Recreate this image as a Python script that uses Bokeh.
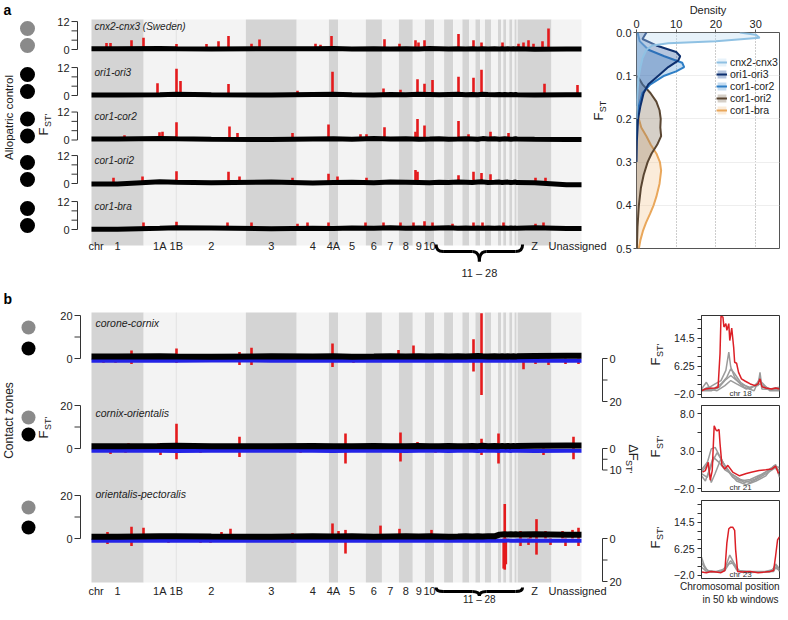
import math
from bokeh.plotting import figure
from bokeh.models import Range1d, FixedTicker, PrintfTickFormatter, Legend, LegendItem, Title
from bokeh.layouts import row, column
from bokeh.embed import file_html
from bokeh.resources import INLINE
from bokeh.core.properties import value

FONT = "Liberation Sans"
RED = "#e41a1c"
BLUE = "#2323e6"
GREY_BAND = "#d4d4d4"
LIGHT_BAND = "#f3f3f3"
TXT = "#222222"
CIRCLE_GREY = "#8a8a8a"

# ---------------- genome layout data ----------------
CHROMS = ["1", "1A", "1B", "2", "3", "4", "4A", "5", "6", "7", "8", "9", "10",
          "11", "12", "13", "14", "15", "17", "18", "19", "20", "21", "22", "23",
          "24", "25", "26", "27", "28", "Z", "Unassigned"]
CHROM_MB = [120, 74, 2, 159, 117, 74, 21, 64, 37, 39, 32, 28, 21,
            23, 21, 21, 16, 14, 11, 11, 14, 16, 7, 5, 7, 7, 7, 5, 5, 2, 78, 69]
CHROM_LABELS = ["1", "1A", "1B", "2", "3", "4", "4A", "5", "6", "7", "8", "9", "10", "Z"]
BRACE_FROM, BRACE_TO, BRACE_TEXT = "11", "28", "11 \u2013 28"

# ---------------- panel a: allopatric control ----------------
A_NAMES = ["cnx2-cnx3 (Sweden)", "ori1-ori3", "cor1-cor2", "cor1-ori2", "cor1-bra"]
A_CIRCLES = [(CIRCLE_GREY, CIRCLE_GREY), ("black", "black"), ("black", "black"),
             ("black", "black"), ("black", "black")]
A_YTICKS = [0, 4, 8, 12]
A_YLABELS = [0, 12]
A_BASE = [
    [0.3, 0.4, 0.3, 0.2, 0.3, 0.3, 0.4, 0.2, 0.3, 0.2, 0.3, 0.2, 0.4, 0.3, 0.2, 0.3,
     0.2, 0.3, 0.2, 0.3, 0.2, 0.3, 0.2, 0.3, 0.2, 0.3, 0.2, 0.3, 0.2, 0.3, 0.1, 0.2],
    [0.2, 0.3, 0.5, 0.3, 0.2, 0.4, 0.5, 0.3, 0.2, 0.4, 0.3, 0.5, 0.4, 0.3, 0.4, 0.5,
     0.3, 0.4, 0.3, 0.5, 0.4, 0.3, 0.4, 0.3, 0.4, 0.3, 0.4, 0.3, 0.4, 0.3, 0.2, 0.3],
    [0.4, 0.6, 0.5, 0.3, 0.2, 0.4, 0.5, 0.3, 0.6, 0.4, 0.5, 0.3, 0.4, 0.5, 0.3, 0.4,
     0.5, 0.4, 0.3, 0.6, 0.4, 0.5, 0.3, 0.4, 0.5, 0.4, 0.3, 0.4, 0.5, 0.4, 0.3, 0.2],
    [-0.2, 0.8, 0.5, 0.3, 0.6, 0.2, 0.4, 0.5, 0.3, 0.6, 0.5, 0.4, 0.3, 0.5, 0.4, 0.6,
     0.5, 0.4, 0.6, 0.7, 0.4, 0.5, 0.6, 0.4, 0.5, 0.6, 0.4, 0.5, 0.6, 0.4, 0.3, -0.5],
    [0.1, 0.5, 0.7, 0.6, 0.3, 0.5, 0.4, 0.6, 0.5, 0.7, 0.5, 0.6, 0.5, 0.6, 0.7, 0.5,
     0.6, 0.5, 0.6, 0.5, 0.6, 0.5, 0.6, 0.5, 0.6, 0.5, 0.6, 0.5, 0.6, 0.5, 0.7, 0.4],
]
A_PEAK_POS = [
    [34.5, 43.7, 92.0, 119.6, 195.5, 264.5, 292.1, 315.1, 368.0, 386.4, 515.2, 526.7, 552.0,
     673.9, 708.4, 745.2, 752.1, 765.9, 844.1, 878.6, 897.0, 945.3, 982.1, 993.6, 1005.1,
     1016.6, 1037.3, 1051.1],
    [151.8, 195.5, 204.7, 315.1, 473.8, 554.3, 671.6, 710.7, 749.8, 765.9, 784.3, 844.1,
     878.6, 897.0, 1041.9, 1117.8],
    [75.9, 156.4, 163.3, 195.5, 317.4, 335.8, 462.3, 545.1, 618.7, 632.5, 673.9, 745.2,
     749.8, 765.9, 844.1, 867.1, 917.7, 959.1],
    [50.6, 117.3, 195.5, 315.1, 340.4, 462.3, 545.1, 565.8, 632.5, 745.2, 749.8, 844.1,
     878.6, 897.0, 917.7, 1021.2, 1044.2],
    [119.6, 195.5, 312.8, 368.0, 473.8, 496.8, 545.1, 630.2, 671.6, 710.7, 740.6, 765.9,
     784.3, 830.3, 878.6, 899.3, 947.6, 1021.2, 1039.6],
]
A_PEAK_H = [
    [2.8, 2.8, 4.0, 5.0, 2.4, 2.4, 3.5, 5.8, 2.5, 4.3, 2.5, 2.0, 5.8, 4.4, 2.5, 4.0, 3.0,
     4.0, 6.7, 4.0, 3.0, 3.0, 2.5, 3.0, 4.0, 2.5, 3.5, 9.0],
    [5.3, 11.5, 6.2, 4.9, 2.0, 10.2, 3.0, 2.5, 7.0, 5.0, 6.6, 8.0, 7.6, 11.0, 5.0, 4.5],
    [2.0, 3.3, 3.5, 7.6, 5.8, 3.0, 3.0, 6.7, 2.5, 2.5, 5.5, 3.5, 9.0, 6.2, 8.2, 2.5, 3.5, 3.0],
    [2.5, 3.0, 5.3, 5.0, 3.0, 2.5, 4.2, 3.0, 2.5, 5.8, 5.0, 3.5, 5.0, 4.5, 4.0, 2.5, 2.5],
    [3.0, 3.3, 3.0, 3.0, 2.5, 3.0, 3.0, 3.0, 3.0, 3.0, 3.0, 3.5, 3.0, 2.5, 3.0, 3.0, 3.0, 2.5, 3.0],
]

# ---------------- panel b: contact zones ----------------
B_NAMES = ["corone-cornix", "cornix-orientalis", "orientalis-pectoralis"]
B_YTICKS = [0, 10, 20]
B_YLABELS = [0, 20]
B_DTICKS = [[0, 10, 20], [0, 5, 10], [0, 10, 20]]
B_DLABELS = [[0, 20], [0, 10], [0, 20]]
B_BASE = [
    [0.9, 1.0, 0.9, 0.8, 1.0, 0.9, 1.0, 0.8, 0.9, 1.0, 0.9, 1.0, 0.9, 1.0, 0.9, 1.0,
     0.9, 1.1, 1.2, 1.0, 0.9, 1.0, 0.9, 1.0, 0.9, 1.0, 0.9, 1.0, 0.9, 1.0, 1.2, 1.3],
    [1.0, 1.2, 1.3, 1.1, 1.0, 1.2, 1.1, 1.0, 1.2, 1.1, 1.0, 1.2, 1.1, 1.0, 1.2, 1.1,
     1.0, 1.2, 1.1, 1.3, 1.1, 1.2, 1.1, 1.2, 1.1, 1.2, 1.1, 1.2, 1.1, 1.2, 1.3, 1.4],
    [0.8, 1.0, 1.0, 0.9, 0.8, 1.0, 0.9, 1.0, 0.8, 0.9, 1.0, 0.9, 1.0, 0.9, 0.8, 0.9,
     1.0, 0.9, 1.0, 0.9, 1.0, 1.0, 1.8, 1.9, 2.0, 1.9, 2.0, 1.9, 2.0, 1.9, 2.0, 1.8],
]
B_DBASE = [
    [-1.0, -1.1, -1.0, -0.9, -1.0, -1.1, -1.0, -0.9, -1.0, -1.1, -1.0, -0.9, -1.0, -1.1,
     -1.0, -0.9, -1.0, -1.1, -1.0, -0.9, -1.0, -1.1, -1.0, -0.9, -1.0, -1.1, -1.0, -0.9,
     -1.0, -1.1, -1.0, -1.1],
    [-1.1, -1.0, -1.2, -1.0, -1.1, -1.0, -1.2, -1.0, -1.1, -1.0, -1.2, -1.0, -1.1, -1.0,
     -1.2, -1.0, -1.1, -1.0, -1.2, -1.0, -1.1, -1.0, -1.2, -1.0, -1.1, -1.0, -1.2, -1.0,
     -1.1, -1.0, -1.2, -1.1],
    [-1.0, -0.9, -1.0, -1.1, -1.0, -0.9, -1.0, -1.1, -1.0, -0.9, -1.0, -1.1, -1.0, -0.9,
     -1.0, -1.1, -1.0, -0.9, -1.0, -1.1, -1.0, -0.9, -1.0, -1.1, -1.0, -0.9, -1.0, -1.1,
     -1.0, -0.9, -1.0, -1.1],
]
B_UP_POS = [
    [92.0, 195.5, 340.4, 368.0, 554.3, 706.1, 740.6, 878.6, 897.0],
    [27.6, 85.1, 154.1, 195.5, 340.4, 584.2, 710.7, 749.8, 897.0, 936.1, 1108.6],
    [36.8, 92.0, 119.6, 177.1, 195.5, 278.3, 299.0, 319.7, 462.3, 554.3, 568.1, 584.2,
     664.7, 708.4, 782.0, 950.5, 986.7, 1009.7, 1023.5, 1044.2, 1083.3, 1106.3, 1120.1],
]
B_UP_H = [
    [3.7, 4.6, 3.0, 5.0, 7.0, 4.0, 6.0, 9.0, 21.0],
    [2.0, 2.5, 2.5, 11.5, 5.5, 7.0, 7.5, 3.0, 4.5, 7.0, 5.5],
    [3.0, 5.5, 5.0, 2.0, 2.0, 2.0, 3.0, 4.5, 2.5, 7.0, 3.5, 4.0, 6.0, 4.5, 4.0, 16.0, 3.5,
     3.0, 9.0, 3.5, 3.5, 4.0, 5.0],
]
B_DN_POS = [
    [27.6, 55.2, 92.0, 195.5, 340.4, 368.0, 554.3, 602.6, 878.6, 897.0, 993.6, 1021.2,
     1051.1, 1090.2, 1120.1],
    [43.7, 78.2, 158.7, 195.5, 250.7, 340.4, 480.7, 584.2, 710.7, 791.2, 897.0, 936.1,
     1039.6, 1108.6],
    [36.8, 92.0, 177.1, 250.7, 273.7, 462.3, 584.2, 948.0, 950.5, 953.0, 986.7, 1005.1,
     1023.5, 1055.7, 1090.2, 1120.1],
]
B_DN_H = [
    [2.0, 2.0, 2.5, 2.0, 3.0, 3.0, 4.0, 2.0, 6.0, 17.0, 5.0, 2.5, 3.0, 2.5, 2.5],
    [2.5, 2.0, 3.0, 5.0, 2.0, 4.0, 2.0, 7.0, 6.0, 2.0, 3.0, 7.0, 3.0, 5.0],
    [2.5, 3.5, 2.0, 2.0, 2.0, 2.0, 7.0, 14.0, 14.5, 12.0, 3.5, 3.0, 7.5, 3.0, 3.5, 3.5],
]

# ---------------- density panel ----------------
D_NAMES = ["cnx2-cnx3", "ori1-ori3", "cor1-cor2", "cor1-ori2", "cor1-bra"]
D_FST = [
    [0.0, 0.005, 0.012, 0.02, 0.025, 0.03, 0.04, 0.06, 0.08, 0.1, 0.13, 0.16, 0.2],
    [0.0, 0.015, 0.03, 0.045, 0.055, 0.065, 0.08, 0.1, 0.12, 0.14, 0.17, 0.2, 0.25, 0.3],
    [0.0, 0.02, 0.04, 0.055, 0.07, 0.08, 0.09, 0.1, 0.12, 0.14, 0.17, 0.2, 0.25],
    [0.1, 0.12, 0.14, 0.16, 0.18, 0.2, 0.22, 0.24, 0.26, 0.28, 0.3, 0.33, 0.36, 0.4, 0.45, 0.5],
    [0.17, 0.2, 0.22, 0.24, 0.26, 0.28, 0.3, 0.32, 0.35, 0.38, 0.4, 0.42, 0.44, 0.46, 0.48, 0.5],
]
D_VAL = [
    [26, 30, 31, 20, 8, 4, 2.5, 1.5, 1.0, 0.6, 0.3, 0.1, 0.0],
    [2.5, 1.5, 5.0, 10.0, 11.0, 10.5, 8.0, 5.5, 3.0, 1.8, 1.0, 0.4, 0.1, 0.0],
    [0.3, 0.8, 3.0, 7.0, 11.5, 12.0, 10.0, 7.0, 3.5, 1.5, 0.6, 0.2, 0.0],
    [0.2, 1.5, 3.5, 5.0, 5.8, 6.1, 6.0, 6.2, 5.2, 3.8, 2.8, 1.8, 1.1, 0.6, 0.25, 0.1],
    [0.0, 0.6, 1.2, 2.5, 3.6, 5.0, 5.9, 6.2, 5.8, 5.0, 4.3, 3.4, 2.4, 1.6, 1.0, 0.6],
]
D_LINE = ["#8fc1e3", "#0d2f6e", "#2f7fc6", "#5a4632", "#e9a75b"]
D_FILL = ["#b9daf0", "#2c5aa0", "#5d9fd8", "#8a7760", "#f3c995"]
D_XTICKS = [0, 10, 20, 30]
D_YTICKS = [0.0, 0.1, 0.2, 0.3, 0.4, 0.5]

# ---------------- insets ----------------
IN_CHR = ["chr 18", "chr 21", "chr 23"]
IN_RED_X = [
    [0, 4, 9, 14, 17, 19, 20, 22, 23, 25, 26, 28, 29, 31, 33, 34, 36, 38, 41, 45, 50, 55,
     58, 60, 62, 66, 72, 76, 80],
    [1, 4, 7, 9, 11, 13, 15, 16, 18, 19, 21, 24, 27, 32, 39, 46, 52, 59, 66, 72, 76, 79],
    [0, 5, 10, 15, 20, 24, 26, 28, 30, 32, 34, 35, 37, 42, 50, 58, 65, 70, 74, 76, 78, 80],
]
IN_RED_Y = [
    [-1, -0.5, -0.3, -0.2, 0, 10, 21, 20.7, 17.8, 18.8, 16.8, 18.8, 13.8, 17.5, 11.8, 7.4,
     7.1, 4.4, 2.5, 1.8, 1.0, 0.5, 1.0, 2.5, 0.2, -0.2, -0.5, -0.2, -0.5],
    [0.2, 0.4, 1.5, -0.9, 0.4, 6.4, 5.8, 5.7, 5.9, 4.0, 1.1, 0.6, 1.1, 0.2, -0.3, 0.0, 0.2,
     0.4, 0.5, 0.6, 1.0, 0.0],
    [-1, -1.2, -0.8, -1, -1.2, -0.5, 8, 12.5, 13, 13, 12, 6, -0.8, -1, -0.8, -1.2, -1, -0.8,
     -0.5, 4, 9, 10],
]
IN_GREY_X = [
    [[0, 5, 8, 14, 20, 25, 28, 30, 34, 40, 50, 58, 60, 62, 70, 80],
     [0, 6, 12, 20, 26, 30, 34, 40, 50, 60, 70, 80],
     [0, 10, 18, 24, 30, 36, 44, 54, 60, 62, 80],
     [0, 8, 16, 24, 30, 36, 46, 60, 70, 80]],
    [[0, 5, 10, 14, 18, 24, 32, 40, 50, 60, 70, 76, 80],
     [0, 6, 12, 16, 22, 30, 40, 50, 60, 70, 76, 80],
     [0, 4, 8, 12, 18, 24, 34, 44, 54, 64, 72, 80],
     [0, 6, 10, 14, 20, 26, 36, 46, 56, 66, 74, 80]],
    [[0, 3, 6, 15, 24, 29, 33, 38, 50, 65, 73, 76, 80],
     [0, 4, 10, 20, 26, 30, 34, 40, 55, 70, 75, 80],
     [0, 5, 15, 24, 28, 32, 36, 46, 60, 74, 77, 80]],
]
IN_GREY_Y = [
    [[-0.5, 1.5, 0, 1, 2, 5, 10.4, 6, 3, 1, 0, 0.5, 4.4, 0, -0.5, -0.5],
     [-1, 0, -0.5, 1, 3, 5.5, 4, 1.5, -0.5, 2, -1, -1],
     [-1, -1, 0, 2, 3.5, 2, 0, -1, 3, -0.5, -0.8],
     [-0.8, -0.5, -1, 0.5, 2, 1, -0.5, 1, -0.5, 0]],
    [[0.2, 1, 3.3, 3.5, 2.5, 1, -0.5, -1, -0.8, -0.2, 0.5, 1.2, -0.5],
     [0, -0.5, 1.8, 2.8, 1.5, 0, -0.8, -1.2, -0.5, 0.3, 0.8, 0.3],
     [-0.3, -1, 0.5, 2.2, 1.5, 0.5, -0.3, -1.2, -0.8, 0, 0.8, 0.5],
     [0.5, 1.5, -1.2, 0, 2, 0.5, -1, -1.5, -1, -0.3, 1, 0.8]],
    [[3.6, 1, -0.5, -0.8, 0, 4.3, 2, -0.5, -0.8, -0.8, -0.3, 1.5, 0],
     [2, 0, -1, -0.8, 1, 2.5, 1, -1, -1, -1, 0.5, -0.5],
     [0.5, -0.8, -1, -0.5, 1.5, 1.8, -0.3, -1.2, -1, -0.8, 1, -0.8]],
]
IN_YRANGE = [(-3.0, 21.2), (-2.4, 9.1), (-3.0, 21.3)]
IN_MAJOR = [[-2.0, 6.25, 14.5], [-2.0, 3.0, 8.0], [-2.0, 6.25, 14.5]]
IN_MINOR = [[0.75, 3.5, 9.0, 11.75, 17.25, 20.0], [0.5, 5.5], [0.75, 3.5, 9.0, 11.75, 17.25, 20.0]]
IN_LABELS = [["\u22122.0", "6.25", "14.5"], ["\u22122.0", "3.0", "8.0"], ["\u22122.0", "6.25", "14.5"]]
IN_XMAX = 80

# ---------------- derived genome coordinates ----------------
starts, ends = [], []
acc = 0
for L in CHROM_MB:
    starts.append(acc)
    acc += L
    ends.append(acc)
mids = [(s + e) / 2 for s, e in zip(starts, ends)]
shade = [GREY_BAND if i % 2 == 0 else LIGHT_BAND for i in range(len(CHROMS))]
idx = {c: i for i, c in enumerate(CHROMS)}

PX0, MBPX = 91, 2.3


def gx(px):
    return (px - PX0) * MBPX


def no_align(p):
    try:
        p.frame_align = False
    except Exception:
        pass


def track_range(zero_px, u, top, bot):
    return Range1d(start=-(bot - zero_px) / u, end=(zero_px - top) / u)


def txt(p, xs, ys, texts, size="11px", align="center", baseline="middle", angle=0,
        style="normal", color=TXT, **kw):
    p.text(x=xs, y=ys, text=texts, text_font=value(FONT), text_font_size=size,
           text_align=align, text_baseline=baseline, angle=angle, text_font_style=style,
           text_color=color, **kw)


def sub_label(p, xm, ym, main, xs, ys, sub, angle, msize="13px", ssize="9px"):
    txt(p, [xm], [ym], [main], size=msize, angle=angle)
    txt(p, [xs], [ys], [sub], size=ssize, angle=angle)


def base_fig(width, height, xr, yr):
    p = figure(width=width, height=height, x_range=xr, y_range=yr,
               x_axis_location=None, y_axis_location=None, toolbar_location=None,
               output_backend="svg", min_border=0)
    p.outline_line_color = None
    p.xgrid.grid_line_color = None
    p.ygrid.grid_line_color = None
    no_align(p)
    return p


def brace(p, y_top, y_mid, y_tip, y_text, baseline="middle", size="11px"):
    L = starts[idx[BRACE_FROM]] + gx(PX0 + 2)
    R = ends[idx[BRACE_TO]] + gx(PX0 + 5)
    C = (L + R) / 2
    e = gx(PX0 + 7)
    p.quadratic(x0=[L, C - e, C, R - e], y0=[y_top, y_mid, y_tip, y_mid],
                x1=[L + e, C, C + e, R], y1=[y_mid, y_tip, y_mid, y_top],
                cx=[L, C, C, R], cy=[y_mid, y_mid, y_mid, y_mid],
                line_color="black", line_width=3)
    p.segment(x0=[L + e, C + e], y0=[y_mid, y_mid], x1=[C - e, R - e], y1=[y_mid, y_mid],
              line_color="black", line_width=3)
    txt(p, [C], [y_text], [BRACE_TEXT], size=size, baseline=baseline)


def chrom_labels(p, y):
    xs = [mids[idx[c]] for c in CHROM_LABELS]
    txt(p, xs, [y] * len(xs), CHROM_LABELS, size="11px")
    txt(p, [starts[0]], [y], ["chr"], size="11px", align="left", x_offset=-3)
    txt(p, [starts[idx["Unassigned"]]], [y], ["Unassigned"], size="11px", align="left",
        x_offset=-3)


def band_line(vals):
    xs = [starts[0]] + mids + [ends[-1]]
    ys = [vals[0]] + list(vals) + [vals[-1]]
    return xs, ys


# ================= panel a =================
A_TOP, A_BOT = 0, 280
A_ZERO = [49, 95, 139.5, 183, 229]
A_U = 2.33
pa = base_fig(608, 280, Range1d(gx(0), gx(608)), Range1d(A_BOT, A_TOP))
pa.extra_y_ranges = {f"a{k}": track_range(A_ZERO[k], A_U, A_TOP, A_BOT) for k in range(5)}
pa.quad(left=starts, right=ends, top=19, bottom=245, fill_color=shade, line_color=None)

for k, name in enumerate(A_NAMES):
    rn = f"a{k}"
    pa.segment(x0=A_PEAK_POS[k], y0=[0] * len(A_PEAK_POS[k]), x1=A_PEAK_POS[k],
               y1=A_PEAK_H[k], y_range_name=rn, line_color=RED, line_width=2.6)
    bx, by = band_line(A_BASE[k])
    pa.line(bx, by, y_range_name=rn, line_color="black", line_width=5)
    ax = gx(77)
    pa.segment(x0=[ax], y0=[A_YTICKS[0]], x1=[ax], y1=[A_YTICKS[-1]], y_range_name=rn,
               line_color="#333333", line_width=1)
    pa.segment(x0=[ax] * len(A_YTICKS), y0=A_YTICKS, x1=[gx(71)] * len(A_YTICKS), y1=A_YTICKS,
               y_range_name=rn, line_color="#333333", line_width=1)
    txt(pa, [gx(69)] * len(A_YLABELS), A_YLABELS, [str(v) for v in A_YLABELS], align="right",
        y_range_name=rn)
    txt(pa, [gx(94)], [10], [name], size="10px", align="left", style="italic",
        y_range_name=rn)
    c1, c2 = A_CIRCLES[k]
    pa.scatter(x=[gx(27), gx(27)], y=[A_ZERO[k] - 21, A_ZERO[k] - 4], size=15,
               fill_color=[c1, c2], line_color=None)

chrom_labels(pa, 245)
brace(pa, 244, 251, 261, 272)
txt(pa, [gx(3)], [1], ["a"], size="14px", align="left", baseline="top", style="bold",
    color="black")
txt(pa, [gx(8)], [117], ["Allopatric control"], size="11.5px", angle=math.pi / 2)
sub_label(pa, gx(43), 131, "F", gx(47.5), 120, "ST'", math.pi / 2)
# y-axis title of the density panel (sits just left of that panel)
sub_label(pa, gx(598), 116, "F", gx(602.5), 106, "ST", math.pi / 2)

# ================= density panel =================
pdn = figure(width=172, height=280, x_range=Range1d(0, 36), y_range=Range1d(0.5, 0.0),
             x_axis_location="above", y_axis_location="left", toolbar_location=None,
             output_backend="svg", min_border_left=28, min_border_right=1,
             min_border_top=32, min_border_bottom=32)
no_align(pdn)
pdn.outline_line_color = "#555555"
pdn.xaxis.axis_label = "Density"
pdn.xaxis.ticker = FixedTicker(ticks=D_XTICKS)
pdn.yaxis.ticker = FixedTicker(ticks=D_YTICKS)
pdn.yaxis.formatter = PrintfTickFormatter(format="%.1f")
pdn.xgrid.ticker = FixedTicker(ticks=D_XTICKS)
pdn.ygrid.ticker = FixedTicker(ticks=D_YTICKS)
pdn.xgrid.grid_line_color = "#9a9a9a"
pdn.xgrid.grid_line_dash = "1 2"
pdn.ygrid.grid_line_color = "#eeeeee"
for a in pdn.axis:
    a.major_label_text_font = FONT
    a.major_label_text_font_size = "11px"
    a.major_label_text_color = TXT
    a.axis_label_text_font = FONT
    a.axis_label_text_font_size = "11px"
    a.axis_label_text_font_style = "normal"
    a.axis_label_text_color = TXT
    a.axis_label_standoff = 1
    a.major_label_standoff = 2
    a.major_tick_out = 3
    a.major_tick_in = 0
    a.minor_tick_out = 0
    a.minor_tick_in = 0
    a.axis_line_color = None
    a.major_tick_line_color = "#555555"

renders = {}
for i in reversed(range(len(D_NAMES))):
    ar = pdn.harea(x1=0, x2=D_VAL[i], y=D_FST[i], fill_color=D_FILL[i], fill_alpha=0.35)
    ln = pdn.line(D_VAL[i], D_FST[i], line_color=D_LINE[i], line_width=2)
    renders[i] = [ar, ln]
legend = Legend(items=[LegendItem(label=D_NAMES[i], renderers=renders[i]) for i in range(len(D_NAMES))],
                location=(80, 132), label_text_font=FONT, label_text_font_size="10.5px",
                label_text_color=TXT, glyph_width=11, glyph_height=10, label_height=10,
                spacing=0, padding=2, margin=0, border_line_color=None,
                background_fill_alpha=0, label_standoff=3)
pdn.add_layout(legend)

# ================= panel b =================
B_TOP, B_BOT = 280, 604
B_ZERO = [358, 448, 538]
B_U = 2.15
pb = base_fig(668, 324, Range1d(gx(0), gx(668)), Range1d(B_BOT, B_TOP))
pb.extra_y_ranges = {f"b{k}": track_range(B_ZERO[k], B_U, B_TOP, B_BOT) for k in range(3)}
pb.quad(left=starts, right=ends, top=312, bottom=582, fill_color=shade, line_color=None)
B_LABEL_Y = [16.3, 16.7, 20.5]
B_CIRCLE_Y = [(327, 348), (417, 434), (507, 527)]

for k, name in enumerate(B_NAMES):
    rn = f"b{k}"
    pb.segment(x0=B_UP_POS[k], y0=[0] * len(B_UP_POS[k]), x1=B_UP_POS[k], y1=B_UP_H[k],
               y_range_name=rn, line_color=RED, line_width=2.6)
    dn = [-h for h in B_DN_H[k]]
    pb.segment(x0=B_DN_POS[k], y0=[0] * len(B_DN_POS[k]), x1=B_DN_POS[k], y1=dn,
               y_range_name=rn, line_color=RED, line_width=2.6)
    bx, by = band_line(B_DBASE[k])
    pb.line(bx, by, y_range_name=rn, line_color=BLUE, line_width=4)
    bx, by = band_line(B_BASE[k])
    pb.line(bx, by, y_range_name=rn, line_color="black", line_width=6)
    ax = gx(80)
    pb.segment(x0=[ax], y0=[B_YTICKS[0]], x1=[ax], y1=[B_YTICKS[-1]], y_range_name=rn,
               line_color="#333333", line_width=1)
    pb.segment(x0=[ax] * len(B_YTICKS), y0=B_YTICKS, x1=[gx(74)] * len(B_YTICKS), y1=B_YTICKS,
               y_range_name=rn, line_color="#333333", line_width=1)
    txt(pb, [gx(72)] * len(B_YLABELS), B_YLABELS, [str(v) for v in B_YLABELS], align="right",
        y_range_name=rn)
    rx = gx(602)
    dt = [-t for t in B_DTICKS[k]]
    pb.segment(x0=[rx], y0=[dt[0]], x1=[rx], y1=[dt[-1]], y_range_name=rn,
               line_color="#333333", line_width=1)
    pb.segment(x0=[rx] * len(dt), y0=dt, x1=[gx(607)] * len(dt), y1=dt, y_range_name=rn,
               line_color="#333333", line_width=1)
    txt(pb, [gx(609)] * len(B_DLABELS[k]), [-t for t in B_DLABELS[k]],
        [str(t) for t in B_DLABELS[k]], align="left", y_range_name=rn)
    txt(pb, [gx(95)], [B_LABEL_Y[k]], [name], size="10.5px", align="left", style="italic",
        y_range_name=rn)
    y1, y2 = B_CIRCLE_Y[k]
    pb.scatter(x=[gx(28), gx(28)], y=[y1, y2], size=14, fill_color=[CIRCLE_GREY, "black"],
               line_color=None)

chrom_labels(pb, 590)
brace(pb, 587, 591, 595.5, 604, baseline="bottom", size="10px")
txt(pb, [gx(3)], [290], ["b"], size="14px", align="left", baseline="top", style="bold",
    color="black")
txt(pb, [gx(8)], [420], ["Contact zones"], size="12px", angle=math.pi / 2)
sub_label(pb, gx(43), 434, "F", gx(47.5), 423, "ST'", math.pi / 2)
sub_label(pb, gx(633), 452, "\u0394F", gx(628.5), 466, "ST'", -math.pi / 2)
for yc in [356, 448, 539]:
    sub_label(pb, gx(655), yc + 5, "F", gx(659.5), yc - 6, "ST'", math.pi / 2)


# ================= insets =================
def make_inset(i, h, mtop, mbot):
    p = figure(width=112, height=h, x_range=Range1d(0, IN_XMAX), y_range=Range1d(*IN_YRANGE[i]),
               x_axis_location=None, y_axis_location="left", toolbar_location=None,
               output_backend="svg", min_border_left=33, min_border_right=1,
               min_border_top=mtop, min_border_bottom=mbot)
    no_align(p)
    p.outline_line_color = "#333333"
    p.outline_line_width = 1
    p.xgrid.grid_line_color = None
    p.ygrid.grid_line_color = None
    ax = p.yaxis[0]
    ax.ticker = FixedTicker(ticks=IN_MAJOR[i], minor_ticks=IN_MINOR[i])
    ax.major_label_overrides = {t: lab for t, lab in zip(IN_MAJOR[i], IN_LABELS[i])}
    ax.major_label_text_font = FONT
    ax.major_label_text_font_size = "10.5px"
    ax.major_label_text_color = TXT
    ax.major_label_standoff = 3
    ax.major_tick_out = 4
    ax.major_tick_in = 0
    ax.minor_tick_out = 4
    ax.minor_tick_in = 0
    ax.axis_line_color = "#333333"
    ax.major_tick_line_color = "#333333"
    ax.minor_tick_line_color = "#333333"
    for gxs, gys in zip(IN_GREY_X[i], IN_GREY_Y[i]):
        p.line(gxs, gys, line_color="#9b9b9b", line_width=1.5)
    p.line(IN_RED_X[i], IN_RED_Y[i], line_color="#dc1f26", line_width=1.5)
    txt(p, [IN_XMAX / 2], [IN_YRANGE[i][0]], [IN_CHR[i]], size="8px", baseline="bottom",
        color="#333333")
    return p


i1 = make_inset(0, 120, 35, 3)
i2 = make_inset(1, 97, 5, 6)
i3 = make_inset(2, 107, 3, 26)
i3.add_layout(Title(text="Chromosomal position", align="right", text_font=FONT,
                    text_font_size="10px", text_font_style="normal", text_color=TXT,
                    standoff=0), "below")
i3.add_layout(Title(text="in 50 kb windows", align="center", text_font=FONT,
                    text_font_size="10px", text_font_style="normal", text_color=TXT,
                    standoff=0), "below")

col = column(i1, i2, i3)
top_row = row(pa, pdn)
bot_row = row(pb, col)
layout = column(top_row, bot_row)
open("out.html", "w").write(file_html(layout, INLINE))
